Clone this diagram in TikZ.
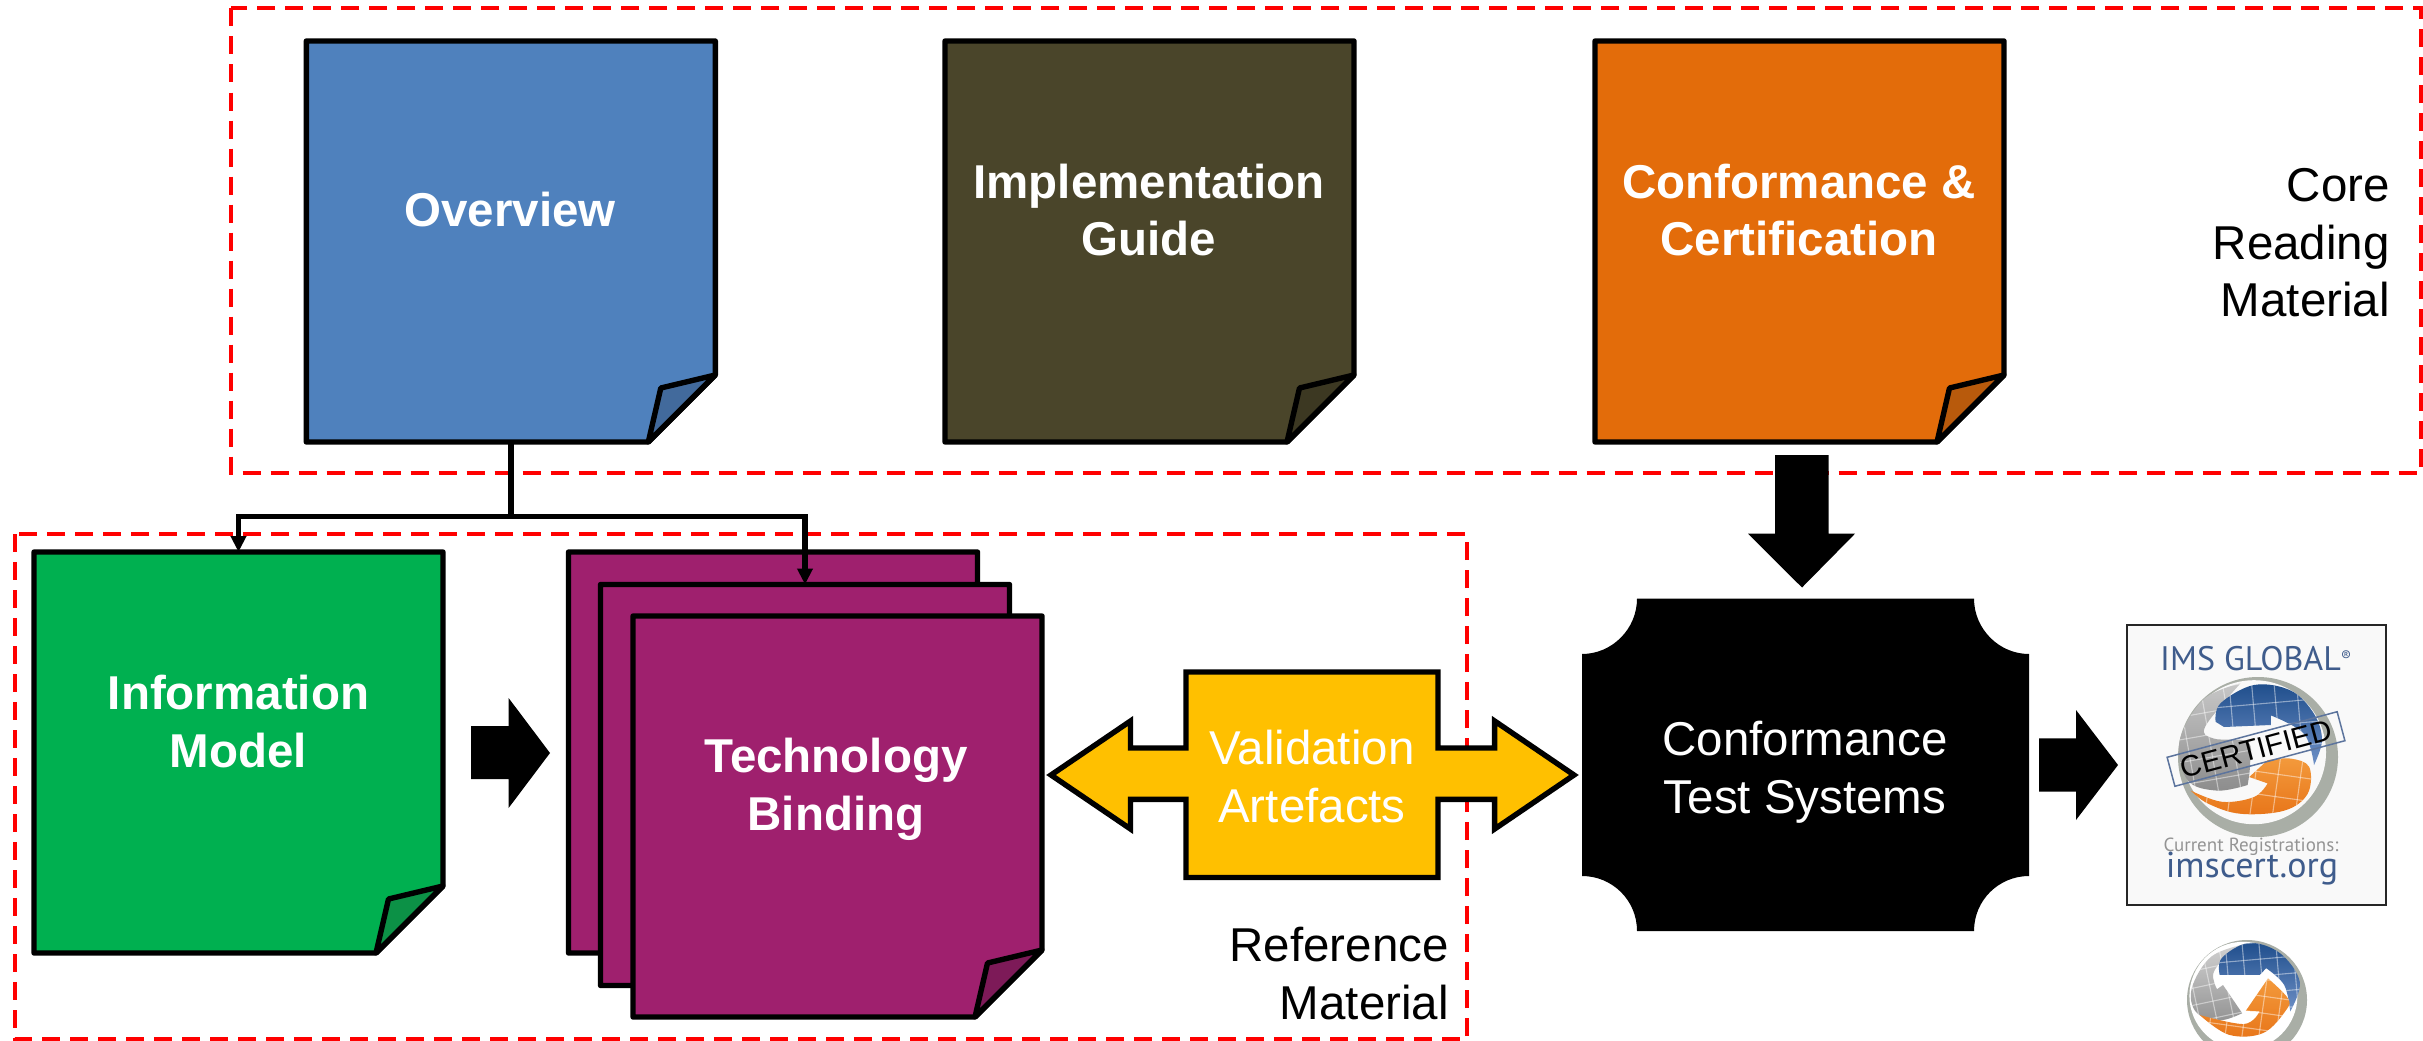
\documentclass[tikz,border=0pt]{standalone}
\usepackage{fontspec}
\setmainfont{Liberation Sans}
\newfontfamily\logofont{PT Sans}
\usetikzlibrary{arrows.meta}
\definecolor{ovblue}{HTML}{4F81BD}\definecolor{ovfold}{HTML}{426A9C}
\definecolor{olive}{HTML}{4A452A}\definecolor{olivefold}{HTML}{3C3822}
\definecolor{orng}{HTML}{E36C0A}\definecolor{orngfold}{HTML}{B85A0C}
\definecolor{grn}{HTML}{00B050}\definecolor{grnfold}{HTML}{0C9146}
\definecolor{purp}{HTML}{9F206E}\definecolor{purpfold}{HTML}{7D1A58}
\definecolor{amber}{HTML}{FFC000}
\definecolor{logoblue}{HTML}{3F5C8C}\definecolor{ringgrey}{HTML}{A9AEA6}
\definecolor{globedark}{HTML}{1F4E8C}\definecolor{globelight}{HTML}{6E90C6}
\definecolor{globeorange}{HTML}{F39A3C}\definecolor{globeorangeb}{HTML}{E8761A}
\tikzset{
  regionbox/.style={draw=red,line width=4pt,dash pattern=on 18pt off 10pt},
  sheetanchor/.style={minimum width=409pt,minimum height=401pt,inner sep=0pt,outer sep=0pt},
  sheetline/.style={draw=black,line width=5.4pt,line join=round},
  boldlabel/.style={inner sep=0pt,align=center,text=white,font=\fontsize{47.5}{57.5}\selectfont\bfseries},
  pluslabel/.style={inner sep=0pt,align=center,text=white,font=\fontsize{47.5}{57.5}\selectfont},
  sidelabel/.style={inner sep=0pt,align=right,anchor=east,text=black,font=\fontsize{47.5}{57.5}\selectfont},
  conn/.style={draw=black,line width=5.4pt},
}
\newcommand\foldsheet[5]{%
  \node[sheetanchor] (#1) at (#2,#3) {};
  \draw[sheetline,fill=#4] (#1.north west) -- (#1.north east) -- ([yshift=67pt]#1.south east)
     -- ([xshift=-67pt]#1.south east) -- (#1.south west) -- cycle;
  \draw[sheetline,fill=#5] ([yshift=67pt]#1.south east) -- ([shift={(-54.5pt,54pt)}]#1.south east)
     -- ([xshift=-67pt]#1.south east) -- cycle;
}
\newcommand\gridfill[2]{% line colour, angle
  \foreach \g in {-1.12,-.84,-.56,-.28,0,.28,.56,.84,1.12}{
    \draw[#1,line width=1.1pt,opacity=.45,rotate=#2] (\g,-1.5) -- (\g,1.5);
    \draw[#1,line width=1.1pt,opacity=.45,rotate=#2] (-1.5,\g+.1) -- (1.5,\g+.1);
  }}
\newcommand\sector[5]{% path, top colour, bottom colour, grid colour, angle
  \begin{scope}
    \path[top color=#2,bottom color=#3] #1;
    \clip #1;
    \gridfill{#4}{#5}
  \end{scope}}
\begin{document}
\begin{tikzpicture}[x=1pt,y=-1pt]
\useasboundingbox (0,0) rectangle (2423,1041);
% regions
\draw[regionbox] (231,8.5) rectangle (2420.5,473);
\draw[regionbox] (15,534) rectangle (1467,1039);
% sheets
\foldsheet{ov}{510.8}{241.5}{ovblue}{ovfold}
\foldsheet{impl}{1149.5}{241.5}{olive}{olivefold}
\foldsheet{conf}{1799.5}{241.5}{orng}{orngfold}
\foldsheet{info}{238.5}{752.5}{grn}{grnfold}
\foldsheet{techa}{773}{752.5}{purp}{purpfold}
\foldsheet{techb}{805}{785}{purp}{purpfold}
\foldsheet{techc}{837.5}{816.5}{purp}{purpfold}
\node[boldlabel] (ovt) at (510,215) {\strut Overview};
\node[boldlabel] (implt) at (1149,215.5) {\strut Implementation\\\strut Guide};
\node[boldlabel] (conft) at (1799,215.5) {\strut Conformance \&\\\strut Certification};
\node[boldlabel] (infot) at (238.5,727) {\strut Information\\\strut Model};
\node[boldlabel] (techt) at (836,790) {\strut Technology\\\strut Binding};
% connectors
\coordinate (split) at ([yshift=-74.5pt]ov.south);
\draw[conn] (ov.south) -- (split);
\draw[conn,-{Triangle[length=16pt,width=15pt]}] (split) -| (info.north);
\draw[conn,-{Triangle[length=16pt,width=15pt]}] (split) -| (techb.north);
% block arrows
\fill[black] (471,726) -- (508.6,726) -- (508.6,698) -- (550,753) -- (508.6,808) -- (508.6,779) -- (471,779) -- cycle;
\fill[black] (1775,455) -- (1828.5,455) -- (1828.5,533.7) -- (1855,533.7) -- (1802,587.5) -- (1748,533.7) -- (1775,533.7) -- cycle;
\fill[black] (2039,738.4) -- (2076,738.4) -- (2076,710) -- (2118,765) -- (2076,820) -- (2076,791.5) -- (2039,791.5) -- cycle;
% validation artefacts
\draw[fill=amber,draw=black,line width=5.4pt,miter limit=10]
  (1051,775) -- (1130.5,721) -- (1130.5,748) -- (1186,748) -- (1186,672) -- (1438,672) -- (1438,748)
  -- (1494.6,748) -- (1494.6,721) -- (1574,775) -- (1494.6,829) -- (1494.6,799.4) -- (1438,799.4)
  -- (1438,877.5) -- (1186,877.5) -- (1186,799.4) -- (1130.5,799.4) -- (1130.5,829) -- cycle;
\node[pluslabel] (val) at (1312,782) {\strut Validation\\\strut Artefacts};
% conformance test systems
\fill[black] (1637,598.6) -- (1974,598.6) .. controls (1974,629) and (1999,654) .. (2029,654)
  -- (2029,876) .. controls (1999,876) and (1974,900) .. (1974,931)
  -- (1637,931) .. controls (1637,900) and (1612,876) .. (1582,876)
  -- (1582,654) .. controls (1612,654) and (1637,629) .. (1637,598.6) -- cycle;
\node[pluslabel] (cts) at (1805,773) {\strut Conformance\\\strut Test Systems};
% side labels
\node[sidelabel] (reft) at (1449,979) {\strut Reference\\\strut Material};
\node[sidelabel] (coret) at (2390,247.5) {\strut Core\\\strut Reading\\\strut Material};
% certified logo
\draw[fill=black!2.5,draw=black!85,line width=2.5pt] (2127,625) rectangle (2386,905);
\begin{scope}[shift={(2258,757)},x=80pt,y=80pt]
  \fill[ringgrey] (0,0) circle (1);
  \fill[black!2.5] (-.05,.06) circle (.9);
  \sector{plot[smooth,tension=.6] coordinates {(-.22,.92) (-.68,.72) (-.98,.2) (-.88,-.29) (-.51,-.42) (-.13,-.35)} -- plot[smooth,tension=.6] coordinates {(-.13,-.35) (-.1,-.1) (-.13,.19) (-.55,.23) (-.66,.38) (-.22,.92)} -- cycle}{black!22}{black!45}{white}{10}
  \sector{plot[smooth,tension=.6] coordinates {(-.53,.44) (-.47,.67) (-.05,.9) (.41,.83) (.7,.54) (.8,.21) (.7,-.1)} -- plot[smooth,tension=.6] coordinates {(.7,-.1) (.575,.29) (.16,.52)} -- (.16,.4) -- (-.425,.375) -- cycle}{globedark}{globelight}{white}{5}
  \sector{(-.11,-.25) -- (.12,-.04) -- plot[smooth,tension=.6] coordinates {(.12,-.04) (.41,-.02) (.64,-.125) (.62,-.46) (.33,-.67) (-.22,-.71) (-.63,-.58) (-.84,-.42)} -- plot[smooth,tension=.6] coordinates {(-.84,-.42) (-.45,-.56) (-.05,-.5) (.12,-.33)} -- cycle}{globeorange}{globeorangeb}{white}{-8}
\end{scope}
\begin{scope}[shift={(2256,749)}]
  \draw[draw=logoblue!85,line width=1.5pt,rotate=15] (-88,-15) rectangle (88,15);
  \node[rotate=15,inner sep=0pt,text=black,font=\fontsize{29.5}{30}\selectfont] (stamp) at (0,0) {CERTIFIED};
\end{scope}
\node[anchor=base west,inner sep=0pt,text=logoblue,font=\logofont\fontsize{34}{35}\selectfont] (imsg) at (2160,670) {IMS GLOBAL\raisebox{9pt}{\fontsize{15}{15}\selectfont ®}};
\node[anchor=base,inner sep=0pt,text=black!42,font=\logofont\fontsize{19}{20}\selectfont] (curr) at (2251,851) {Current Registrations:};
\node[anchor=base,inner sep=0pt,text=logoblue,font=\logofont\fontsize{36}{37}\selectfont] (imsc) at (2252,877) {imscert.org};
% lower globe
\begin{scope}
  \clip (2100,930) rectangle (2423,1041);
  \begin{scope}[shift={(2247,1000)},x=60pt,y=60pt]
    \fill[ringgrey] (0,0) circle (1);
    \fill[white] (-.06,.07) circle (.9);
    \sector{plot[smooth,tension=.6] coordinates {(-.05,.93) (-.6,.72) (-.92,.2) (-.85,-.2) (-.46,-.34) (-.08,-.22)} -- (-.4,.25) -- (-.5,.18) -- plot[smooth,tension=.6] coordinates {(-.5,.18) (-.56,.45) (-.3,.78) (-.05,.93)} -- cycle}{black!18}{black!42}{white}{12}
    \sector{plot[smooth,tension=.6] coordinates {(-.456,.417) (-.42,.7) (.03,.95) (.55,.78) (.88,.3) (.72,-.19)} -- plot[smooth,tension=.6] coordinates {(.72,-.19) (.62,.25) (.32,.53)} -- (.21,.417) -- cycle}{globedark}{globelight}{white}{5}
    \sector{(.35,.36) -- (-.02,-.18) -- (.21,-.19) -- plot[smooth,tension=.6] coordinates {(.21,-.19) (-.05,-.4) (-.79,-.25)} -- plot[smooth,tension=.6] coordinates {(-.79,-.25) (-.3,-.58) (.27,-.55) (.65,-.17) (.68,.03) (.35,.36)} -- cycle}{globeorange}{globeorangeb}{white}{-8}
  \end{scope}
\end{scope}
\end{tikzpicture}
\end{document}
